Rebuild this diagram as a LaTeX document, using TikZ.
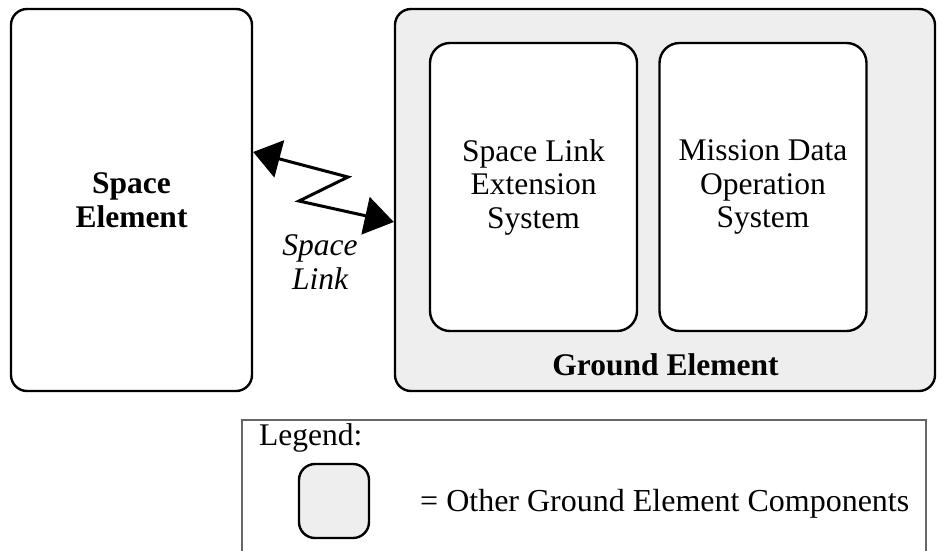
\documentclass[tikz,border=0pt]{standalone}
\usepackage{fontspec}
\setmainfont{Liberation Serif}
\usetikzlibrary{arrows.meta}
\definecolor{groundgray}{HTML}{EEEEEE}
\tikzset{
  elembox/.style={draw,line width=2.4pt,rounded corners=16pt,align=center},
  linkarrow/.style={line width=3pt,{Triangle[length=27pt,width=38pt]}-{Triangle[length=29pt,width=38pt]}}
}

\begin{document}
\begin{tikzpicture}[x=1pt,y=-1pt,every node/.style={font=\fontsize{31.5}{33.5}\selectfont,inner sep=0pt}]
        \useasboundingbox(0,0)rectangle(937,550);
        \node(spaceel)at(131.5,200)[elembox,minimum width=241pt,minimum height=382pt,font=\fontsize{31.5}{33.5}\selectfont\bfseries]{Space\\Element};
        \node(groundel)at(665,200)[elembox,fill=groundgray,minimum width=540pt,minimum height=382pt]{};
        \node(sles)at(533.5,187)[elembox,fill=white,rounded corners=20pt,minimum width=207pt,minimum height=288pt]{Space Link\\Extension\\System};
        \node(mdos)at(763,187)[elembox,fill=white,rounded corners=20pt,minimum width=207pt,minimum height=288pt]{Mission Data\\Operation\\System};
        \node(gelabel)at(665.5,375)[anchor=base,font=\fontsize{31.5}{33.5}\selectfont\bfseries]{Ground Element};
        \node(linklbl)at(320,262)[align=center,font=\fontsize{31.5}{33.5}\selectfont\itshape]{Space\\Link};
        \coordinate(zig1)at(348,177);
        \coordinate(zig2)at(299,201);
        \draw[linkarrow]([yshift=48pt]spaceel.east)--(zig1)--(zig2)--([yshift=-22pt]groundel.west);
        \node(legend)at(584,500)[draw=black!60,line width=1.5pt,minimum width=684pt,minimum height=160pt]{};
        \node(legtitle)at(259,445)[anchor=base west]{Legend:};
        \node(legsample)at(334,501)[elembox,fill=groundgray,minimum width=70pt,minimum height=74pt]{};
        \node(legtext)at(420,511)[anchor=base west,font=\fontsize{32}{34}\selectfont]{= Other Ground Element Components};
    \end{tikzpicture}
\end{document}
